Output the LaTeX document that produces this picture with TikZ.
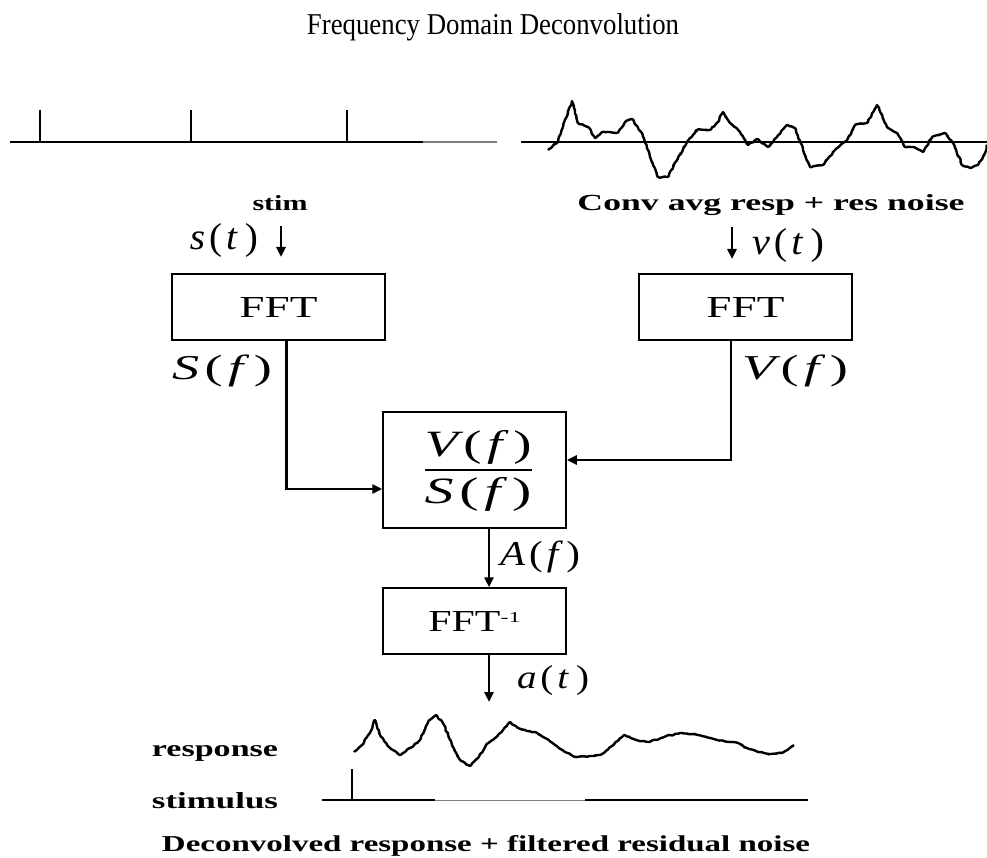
\documentclass[tikz,border=0pt]{standalone}
\usepackage{graphicx}
\usepackage{fontspec}
\setmainfont{Liberation Serif}
\usetikzlibrary{arrows.meta,decorations.pathmorphing}
\newcommand{\fitb}[3]{\resizebox{#1}{#2}{#3}}
\newcommand{\fitt}[3]{\resizebox*{#1}{#2}{#3}}
\newcommand{\fn}[2]{{\itshape #1}\kern1pt(\kern1pt{\itshape #2}\kern2pt)}
\begin{document}
\begin{tikzpicture}[x=1pt,y=-1pt,
  box/.style={draw, line width=1.5pt, inner sep=0pt},
  conn/.style={line width=2.8pt},
  tip/.style={-{Triangle[length=10pt,width=9pt]}},
  arr/.style={line width=2.8pt, tip},
  wave/.style={line width=2.4pt, line join=round, rounded corners=1pt, decorate,
    decoration={random steps, segment length=1.8pt, amplitude=0.8pt}},
  lbl/.style={inner sep=0pt, anchor=base, font=\bfseries},
  mlab/.style={inner sep=0pt}]
\pgfmathsetseed{7}
\useasboundingbox (0,0) rectangle (987,858);

% title
\node[lbl, font=\normalfont] (title) at (493,35) {\fitb{372pt}{21pt}{Frequency Domain Deconvolution}};

% stimulus train (top left)
\coordinate (sl0) at (10,142);
\coordinate (sl1) at (423,142);
\coordinate (sl2) at (497,142);
\draw[line width=2.4pt] (sl0) -- (sl1);
\draw[line width=1.4pt, gray] (sl1) -- (sl2);
\coordinate (t1) at (40,110); \coordinate (t1b) at (40,142);
\coordinate (t2) at (191,110); \coordinate (t2b) at (191,142);
\coordinate (t3) at (347,110); \coordinate (t3b) at (347,142);
\draw[line width=2.4pt] (t1) -- (t1b) (t2) -- (t2b) (t3) -- (t3b);

% convolved response (top right)
\coordinate (rb0) at (521,142); \coordinate (rb1) at (632,142);
\coordinate (rb2) at (745,142); \coordinate (rb3) at (987,142);
\draw[line width=2.4pt] (rb0) -- (rb1);
\draw[line width=1.2pt] (rb1) -- (rb2);
\draw[line width=2.4pt] (rb2) -- (rb3);
\draw[wave] plot coordinates {
 (548,150) (557,143) (563,127) (572,101) (578,123) (588,127) (595,138)
 (602,132) (608,132) (617,133) (625,122) (632,119) (642,133) (650,157)
 (658,177) (668,177) (677,160) (687,142) (697,130) (710,130) (718,122)
 (723,112) (730,123) (740,132) (748,145) (757,139) (768,147) (777,137)
 (787,125) (795,128) (803,150) (810,167) (823,165) (835,150) (847,140)
 (855,125) (867,123) (877,105) (887,127) (897,133) (905,147) (913,147)
 (923,152) (932,137) (945,133) (953,143) (962,165) (970,168) (978,165)
 (985,153) (987,145)};

% labels
\node[lbl] (stim) at (280,211) {\fitb{55pt}{15pt}{stim}};
\node[lbl] (conv) at (771,211) {\fitb{387pt}{16pt}{Conv avg resp + res noise}};

% inputs
\node[mlab] (st) at (224,240) {\fitt{68pt}{34pt}{\fn{s}{t}}};
\coordinate (sa0) at (281,226); \coordinate (sa1) at (281,257);
\draw[arr] (sa0) -- (sa1);
\node[mlab] (vt) at (788,245) {\fitt{72pt}{34pt}{\fn{v}{t}}};
\coordinate (va0) at (732,227); \coordinate (va1) at (732,259);
\draw[arr] (va0) -- (va1);

% boxes
\node[box, minimum width=213pt, minimum height=66pt] (fftL) at (278.5,307) {\fitb{78pt}{20pt}{FFT}};
\node[box, minimum width=213pt, minimum height=66pt] (fftR) at (745.5,307) {\fitb{78pt}{20pt}{FFT}};
\node[box, minimum width=183pt, minimum height=116pt] (div) at (474.5,470) {};
\node[box, minimum width=183pt, minimum height=66pt] (inv) at (474.5,621)
  {\fitb{72pt}{20pt}{FFT}\raisebox{9pt}{\fitb{20pt}{10pt}{-1}}};

% fraction
\node[mlab] (num) at (478,447) {\fitt{107pt}{34pt}{\fn{V}{f}}};
\node[mlab] (den) at (478,494) {\fitt{107pt}{34pt}{\fn{S}{f}}};
\coordinate (fb0) at (425,470); \coordinate (fb1) at (532,470);
\draw[line width=1.6pt] (fb0) -- (fb1);

% spectra labels
\node[mlab] (Sf) at (222,371) {\fitt{100pt}{32pt}{\fn{S}{f}}};
\node[mlab] (Vf) at (795,371) {\fitt{106pt}{32pt}{\fn{V}{f}}};
\node[mlab] (Af) at (540,557) {\fitt{80pt}{32pt}{\fn{A}{f}}};
\node[mlab] (at) at (553,681) {\fitt{72pt}{30pt}{\fn{a}{t}}};

% connectors
\draw[conn, tip] ([xshift=8pt]fftL.south) |- ([yshift=-19pt]div.west);
\draw[conn, tip] ([xshift=-14.5pt]fftR.south) |- ([yshift=10pt]div.east);
\draw[arr] ([xshift=14.5pt]div.south) -- ([xshift=14.5pt]inv.north);
\coordinate (ae) at (489,702);
\draw[arr] ([xshift=14.5pt]inv.south) -- (ae);

% deconvolved response
\node[lbl] (resp) at (215,756) {\fitb{126pt}{11pt}{response}};
\node[lbl] (stml) at (215,808) {\fitb{126pt}{16pt}{stimulus}};
\draw[wave] plot coordinates {
 (354,752) (362,745) (370,733) (375,720) (380,735) (390,748) (400,755)
 (410,748) (420,740) (428,722) (436,715) (444,725) (452,745) (460,760)
 (470,766) (478,758) (486,745) (495,738) (503,730) (510,722) (518,728)
 (527,731) (535,732) (545,738) (555,745) (565,752) (575,757) (590,756)
 (600,755) (612,746) (624,735) (636,740) (649,742) (664,737) (680,733)
 (698,735) (714,739) (729,742) (738,743) (747,748) (758,752) (770,754)
 (782,753) (794,745)};
\coordinate (bs0) at (322,800); \coordinate (bs1) at (435,800);
\coordinate (bs2) at (585,800); \coordinate (bs3) at (808,800);
\draw[line width=2.2pt] (bs0) -- (bs1);
\draw[line width=1pt, gray] (bs1) -- (bs2);
\draw[line width=1.6pt] (bs2) -- (bs3);
\coordinate (bt0) at (352,769); \coordinate (bt1) at (352,800);
\draw[line width=2.4pt] (bt0) -- (bt1);

\node[lbl] (dec) at (486,851) {\fitb{648pt}{16pt}{Deconvolved response + filtered residual noise}};
\end{tikzpicture}
\end{document}
